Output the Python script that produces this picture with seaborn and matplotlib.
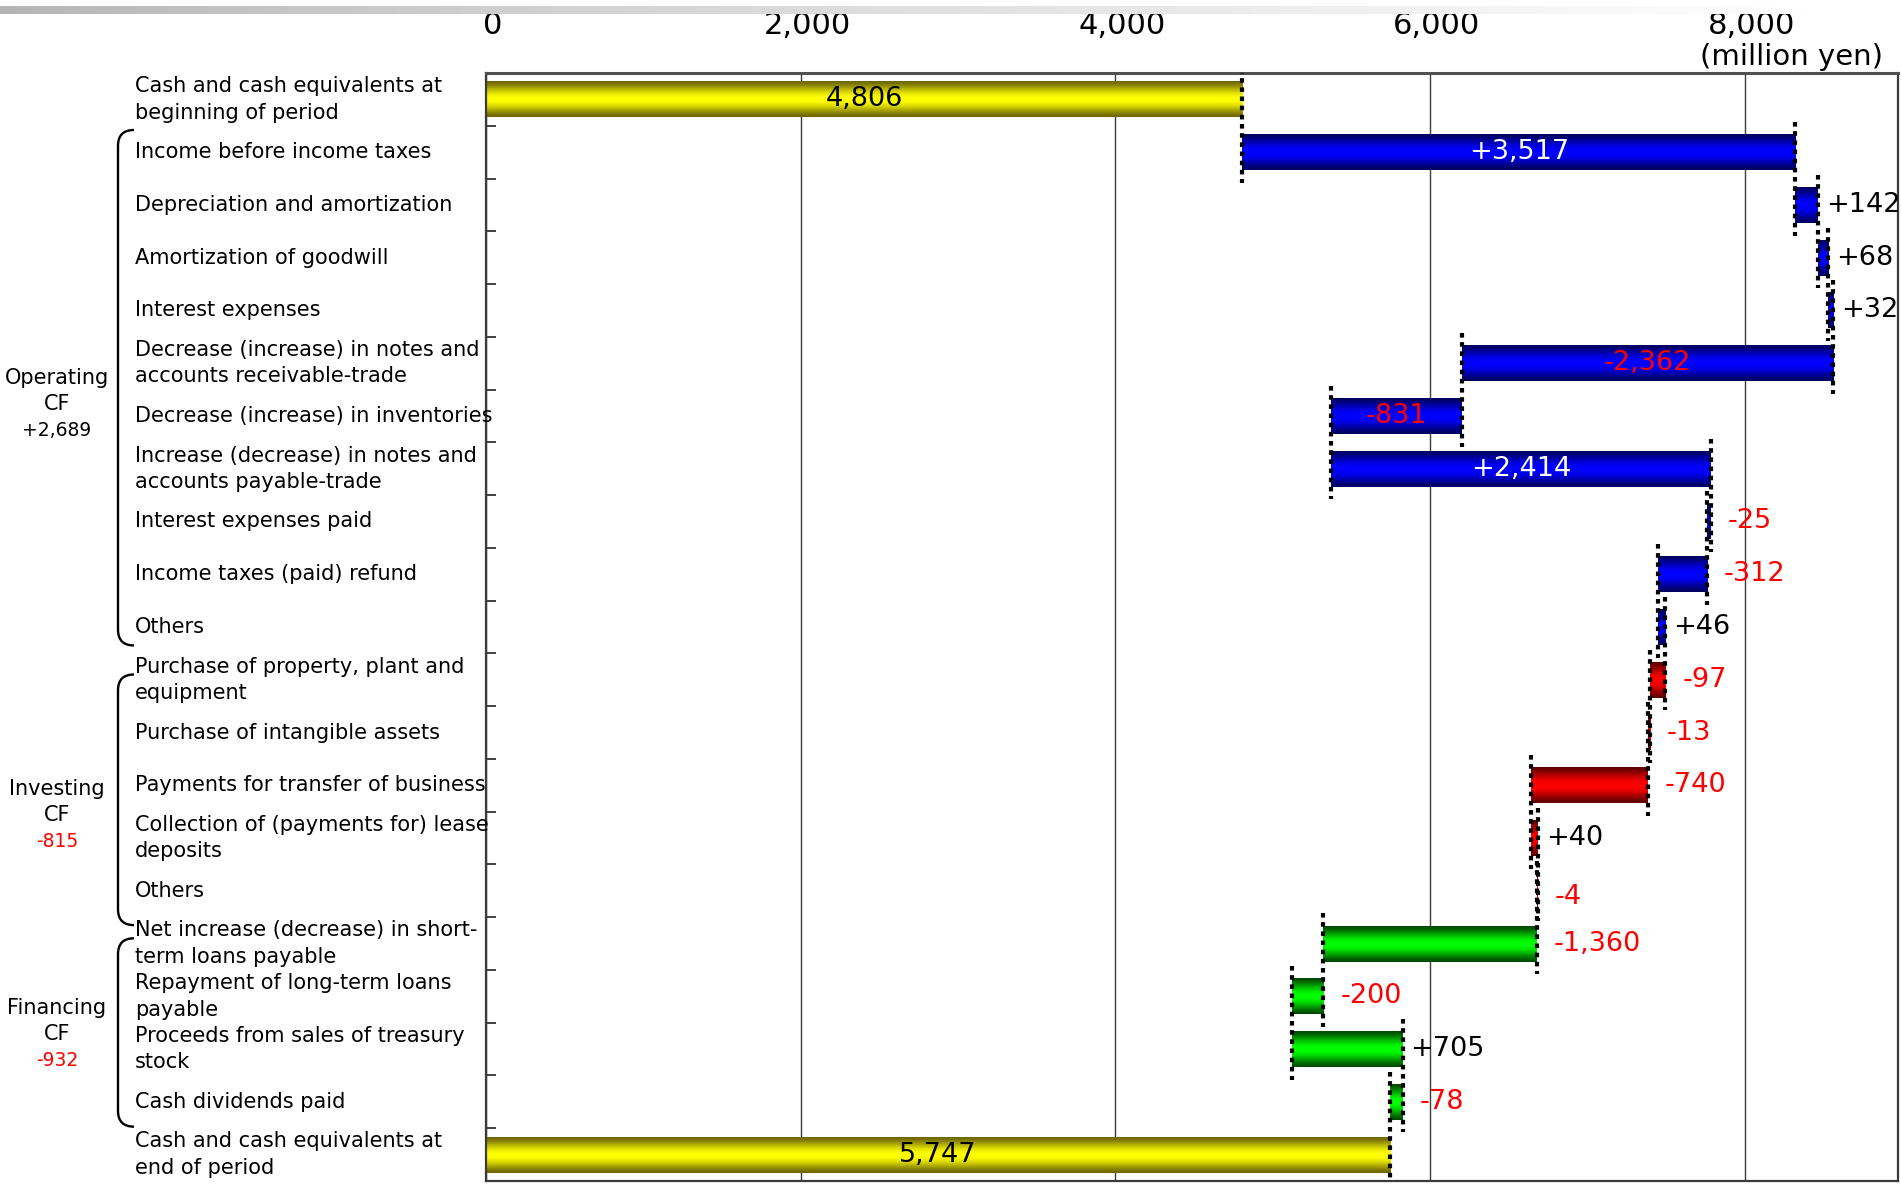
import numpy as np
import pandas as pd
import matplotlib
matplotlib.use("Agg")
import matplotlib.pyplot as plt
import matplotlib.transforms as mtransforms
from matplotlib.colors import to_rgb
from matplotlib.path import Path
from matplotlib.patches import PathPatch
import seaborn as sns

# ---------------------------------------------------------------- data
items = [
    "Cash and cash equivalents at\nbeginning of period",
    "Income before income taxes",
    "Depreciation and amortization",
    "Amortization of goodwill",
    "Interest expenses",
    "Decrease (increase) in notes and\naccounts receivable-trade",
    "Decrease (increase) in inventories",
    "Increase (decrease) in notes and\naccounts payable-trade",
    "Interest expenses paid",
    "Income taxes (paid) refund",
    "Others",
    "Purchase of property, plant and\nequipment",
    "Purchase of intangible assets",
    "Payments for transfer of business",
    "Collection of (payments for) lease\ndeposits",
    "Others",
    "Net increase (decrease) in short-\nterm loans payable",
    "Repayment of long-term loans\npayable",
    "Proceeds from sales of treasury\nstock",
    "Cash dividends paid",
    "Cash and cash equivalents at\nend of period",
]
amounts = [4806, 3517, 142, 68, 32, -2362, -831, 2414, -25, -312, 46,
           -97, -13, -740, 40, -4, -1360, -200, 705, -78, 5747]
kinds = (["total"] + ["operating"] * 10 + ["investing"] * 5
         + ["financing"] * 4 + ["total"])

section_names = ["Operating", "Investing", "Financing"]
section_totals = [2689, -815, -932]
x_ticks = [0, 2000, 4000, 6000, 8000]
unit_label = "(million yen)"

# ---------------------------------------------------------------- styling
W, H = 1901, 1191
shades = {  # (dark edge, bright centre)
    "total": ("#6e6600", "#ffff00"),
    "operating": ("#000060", "#0000ff"),
    "investing": ("#600000", "#ff0000"),
    "financing": ("#004a00", "#00ff00"),
}
inside_rows = {0, 1, 5, 6, 7, 20}
FONT = "DejaVu Sans"

# running waterfall levels
starts, ends = [], []
level = 0
for amt, kind in zip(amounts, kinds):
    s, e = (0, amt) if kind == "total" else (level, level + amt)
    starts.append(s)
    ends.append(e)
    level = e

rows = [f"r{i}" for i in range(len(items))]
df = pd.DataFrame({
    "row": rows,
    "span": [abs(e - s) for s, e in zip(starts, ends)],
    "left": [min(s, e) for s, e in zip(starts, ends)],
})

plt.rcParams["font.family"] = [FONT]
fig = plt.figure(figsize=(W / 100, H / 100), dpi=100)
ax = fig.add_axes([486 / W, 10 / H, 1412 / W, 1108 / H])

# decorative fading strip along the top edge
strip = fig.add_axes([0, 1 - 14 / H, 1810 / W, 8 / H])
grad = np.linspace(0, 1, 256) ** 0.8
g0 = np.array(to_rgb("#b4b4b4"))
strip_img = (g0[None, :] * (1 - grad[:, None]) + grad[:, None])[None, :, :]
strip.imshow(strip_img, aspect="auto", extent=(0, 1, 0, 1))
strip.set_axis_off()

BAR_H = 0.68
sns.barplot(data=df, x="span", y="row", order=rows, orient="h",
            width=BAR_H, errorbar=None, color="#888888",
            left=df["left"].values, ax=ax, zorder=2)

# gradient fill for each bar
t = np.linspace(0, 1, 96)
prof = np.clip(np.sin(np.pi * t), 0, 1) ** 1.5
for patch, kind in zip(ax.patches, kinds):
    dark, bright = (np.array(to_rgb(c)) for c in shades[kind])
    patch.set_facecolor(bright)
    patch.set_edgecolor("none")
    x0, y0 = patch.get_x(), patch.get_y()
    w, h = patch.get_width(), patch.get_height()
    img = dark[None, :] * (1 - prof[:, None]) + bright[None, :] * prof[:, None]
    im = ax.imshow(img[:, None, :], extent=(x0, x0 + w, y0 + h, y0),
                   aspect="auto", interpolation="bilinear", zorder=2.1)
    im.set_clip_path(patch)

# dotted connectors at the end of each step
n = len(items)
for i in range(n - 1):
    ax.plot([ends[i], ends[i]], [i - 0.57, i + 1.58], color="black",
            lw=3.0, linestyle=(0, (1.1, 1.1)), zorder=3, clip_on=True)

# value labels
for i, (amt, kind) in enumerate(zip(amounts, kinds)):
    txt = f"{amt:,}" if kind == "total" else f"{amt:+,}"
    if i in inside_rows:
        col = "black" if kind == "total" else ("white" if amt > 0 else "red")
        ax.text((starts[i] + ends[i]) / 2, i, txt, ha="center", va="center",
                fontsize=19.5, color=col, zorder=4)
    else:
        col = "black" if amt > 0 else "red"
        off = 8 if amt > 0 else 17
        tr = ax.transData + mtransforms.ScaledTranslation(off / 100, 0, fig.dpi_scale_trans)
        ax.text(max(starts[i], ends[i]), i + (0.12 if i == 15 else 0), txt,
                ha="left", va="center", fontsize=19.5, color=col,
                transform=tr, zorder=4)

# axes cosmetics
ax.set_xlim(0, 8975)
ax.set_ylim(n - 0.5, -0.5)
ax.set_xlabel("")
ax.set_ylabel("")
ax.set_axisbelow(True)
ax.xaxis.tick_top()
ax.set_xticks(x_ticks)
ax.set_xticklabels([f"{v:,}" for v in x_ticks])
ax.tick_params(axis="x", length=0, pad=24, labelsize=22)
shift = mtransforms.ScaledTranslation(7 / 100, 0, fig.dpi_scale_trans)
for lab in ax.get_xticklabels():
    lab.set_transform(lab.get_transform() + shift)
ax.grid(axis="x", color="#3c3c3c", lw=1.0, zorder=0)
ax.set_yticks([])
ax.set_yticks(np.arange(n - 1) + 0.5, minor=True)
ax.tick_params(axis="y", which="minor", direction="in", length=7,
               width=1.3, color="#333333")
for side, sp in ax.spines.items():
    sp.set_color("#3a3a3a")
    sp.set_linewidth(1.6)
ax.spines["top"].set_linewidth(2.2)
ax.spines["top"].set_color("#505050")

fig.text(1883 / W, 1 - 57 / H, unit_label, ha="right", va="center",
         fontsize=21)

# row captions
lab_tr = mtransforms.blended_transform_factory(fig.transFigure, ax.transData)
for i, name in enumerate(items):
    ax.text(135 / W, i, name, transform=lab_tr, ha="left", va="center",
            fontsize=15, linespacing=1.4, clip_on=False)

# section captions and brackets
caption_rows = [5.77, 13.56, 17.71]
bracket_spans = [(0.58, 10.35), (10.9, 15.65), (15.9, 19.47)]
xl, xh = 118 / W, 134 / W
for name, tot, yc, (yt, yb) in zip(section_names, section_totals,
                                   caption_rows, bracket_spans):
    ax.text(57 / W, yc - 0.49, name, transform=lab_tr, ha="center",
            va="center", fontsize=15, clip_on=False)
    ax.text(57 / W, yc, "CF", transform=lab_tr, ha="center", va="center",
            fontsize=15, clip_on=False)
    ax.text(57 / W, yc + 0.5, f"{tot:+,}", transform=lab_tr, ha="center",
            va="center", fontsize=13.5, color="black" if tot > 0 else "red",
            clip_on=False)
    r = 0.3
    verts = [(xh, yt), (xl, yt), (xl, yt + r), (xl, yb - r), (xl, yb), (xh, yb)]
    codes = [Path.MOVETO, Path.CURVE3, Path.CURVE3, Path.LINETO,
             Path.CURVE3, Path.CURVE3]
    ax.add_patch(PathPatch(Path(verts, codes), transform=lab_tr,
                           facecolor="none", edgecolor="black", lw=1.7,
                           clip_on=False))

fig.savefig("out.png", dpi=100)
